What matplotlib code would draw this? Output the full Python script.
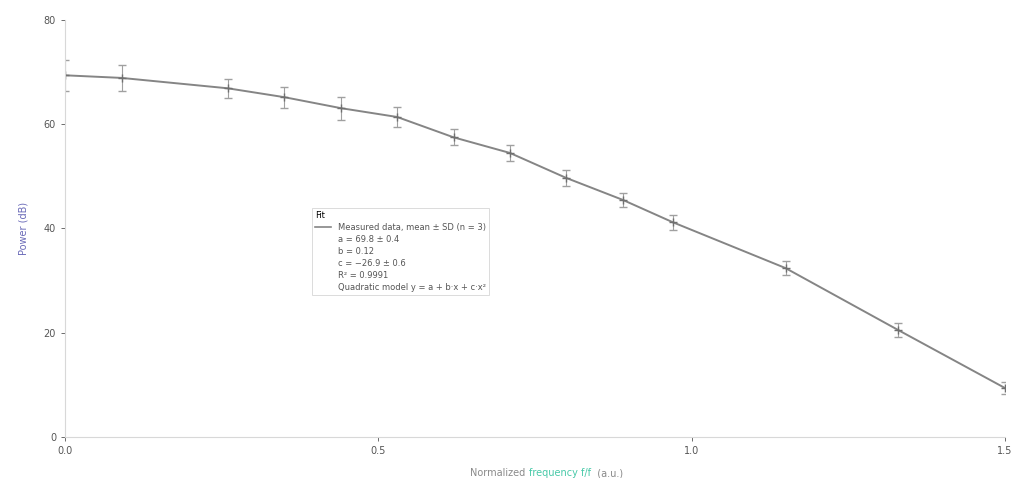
import matplotlib
matplotlib.use('Agg')
import matplotlib.pyplot as plt
from matplotlib.lines import Line2D

# データ
x_vals = [0.0, 0.09, 0.26, 0.35, 0.44, 0.53, 0.62, 0.71, 0.80, 0.89, 0.97, 1.15, 1.33, 1.50]
y_vals = [69.4, 68.9, 66.9, 65.2, 63.1, 61.4, 57.5, 54.5, 49.7, 45.5, 41.2, 32.4, 20.5, 9.4]
y_err = [3.0, 2.5, 1.8, 2.0, 2.2, 2.0, 1.5, 1.5, 1.6, 1.4, 1.4, 1.3, 1.3, 1.2]
x_ticks = [0.0, 0.5, 1.0, 1.5]
y_ticks = [0, 20, 40, 60, 80]
legend_title = "Fit"
legend_rows = ["Measured data, mean ± SD (n = 3)",
               "a = 69.8 ± 0.4",
               "b = 0.12",
               "c = −26.9 ± 0.6",
               "R² = 0.9991",
               "Quadratic model y = a + b·x + c·x²"]

fs = 7
line_color = '#858585'

fig = plt.figure(figsize=(10.18, 4.78), dpi=100)
ax = fig.add_axes([0.064, 0.086, 0.923, 0.872])

ax.errorbar(x_vals, y_vals, yerr=y_err, color=line_color, lw=1.4,
            marker='+', ms=6, mew=1.0, mec='#707070',
            ecolor='#a0a0a0', elinewidth=0.8, capsize=3, capthick=0.8)

ax.set_xlim(0, 1.5)
ax.set_ylim(0, 80)
ax.set_xticks(x_ticks)
ax.set_yticks(y_ticks)
ax.set_xticklabels([f"{v:.1f}" for v in x_ticks])
ax.tick_params(labelsize=fs, colors='#555555', length=3, width=0.6)

for s in ['top', 'right']:
    ax.spines[s].set_visible(False)
for s in ['left', 'bottom']:
    ax.spines[s].set_color('#d8d8d8')
    ax.spines[s].set_linewidth(0.8)

ax.set_ylabel('Power (dB)', fontsize=fs, color='#6a6ab8', labelpad=11)

# x軸ラベル（中央部分だけ色違い）
t1 = ax.text(0.431, -0.075, 'Normalized ', transform=ax.transAxes,
             fontsize=fs, color='#8a8a8a', ha='left', va='top')
t2 = ax.annotate('frequency f/f', xy=(1, 0), xycoords=t1, va='bottom',
                 fontsize=fs, color='#48c9a8')
t3 = ax.annotate('  (a.u.)', xy=(1, 0), xycoords=t2, va='bottom',
                 fontsize=fs, color='#8a8a8a')

handles = [Line2D([], [], color=line_color, lw=1.2)] + \
          [Line2D([], [], color='none') for _ in legend_rows[1:]]
leg = ax.legend(handles, legend_rows, title=legend_title, loc='upper left',
                bbox_to_anchor=(0.258, 0.558), fontsize=6, title_fontsize=6,
                frameon=True, fancybox=False, handlelength=2.0,
                labelspacing=0.35, borderpad=0.35)
leg._legend_box.align = 'left'
leg.get_frame().set_edgecolor('#cccccc')
leg.get_frame().set_linewidth(0.6)
for t in leg.get_texts():
    t.set_color('#555555')

plt.savefig('out.png', dpi=100)
plt.close()
